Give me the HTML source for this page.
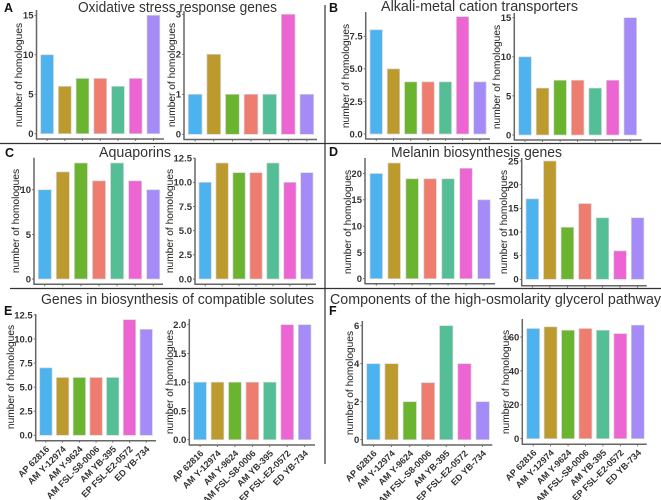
<!DOCTYPE html>
<html lang="en">
<head>
<meta charset="utf-8">
<title>Homologue counts by strain</title>
<style>
html,body{margin:0;padding:0;background:#fff;}
#figure{display:block;width:661px;height:500px;font-family:"Liberation Sans",sans-serif;filter:blur(0.3px);}
.title{font-size:14.8px;fill:#333;}
.letter{font-size:12.5px;font-weight:bold;fill:#111;}
.tick{font-size:9.5px;font-weight:bold;fill:#333;text-anchor:end;}
.ytitle{font-size:10.2px;fill:#222;text-anchor:middle;}
.xlab{font-size:9px;font-weight:bold;fill:#333;text-anchor:end;}
</style>
</head>
<body>
<svg id="figure" xmlns="http://www.w3.org/2000/svg" width="661" height="500" viewBox="0 0 661 500">
  <line x1="325" y1="5" x2="325" y2="464" stroke="#333" stroke-width="1.2"/>
  <line x1="0" y1="143.5" x2="661" y2="143.5" stroke="#333" stroke-width="1.2"/>
  <line x1="10" y1="288.5" x2="661" y2="288.5" stroke="#333" stroke-width="1.2"/>

  <text class="title" x="78" y="12" textLength="199" lengthAdjust="spacingAndGlyphs">Oxidative stress response genes</text>
  <text class="title" x="381" y="11" textLength="197" lengthAdjust="spacingAndGlyphs">Alkali-metal cation transporters</text>
  <text class="title" x="99" y="157" textLength="72" lengthAdjust="spacingAndGlyphs">Aquaporins</text>
  <text class="title" x="391" y="157" textLength="171" lengthAdjust="spacingAndGlyphs">Melanin biosynthesis genes</text>
  <text class="title" x="41" y="304" textLength="273" lengthAdjust="spacingAndGlyphs">Genes in biosynthesis of compatible solutes</text>
  <text class="title" x="330" y="304" textLength="331" lengthAdjust="spacingAndGlyphs">Components of the high-osmolarity glycerol pathway</text>

  <text class="letter" x="4" y="12">A</text>
  <text class="letter" x="329" y="12">B</text>
  <text class="letter" x="5" y="157">C</text>
  <text class="letter" x="329" y="156">D</text>
  <text class="letter" x="4" y="315">E</text>
  <text class="letter" x="329" y="315">F</text>
  <g id="charts"></g>
</svg>
<script>
const strains = ['AP 62816','AM Y-12974','AM Y-9624','AM FSL-S8-0006','AM YB-395','EP FSL-E2-0572','ED YB-734'];
const barColors = ['#4db3ee','#bd9a2e','#6bb42f','#ee7d70','#54be96','#ec65d3','#a48bf8'];

const valuesA1 = [10,6,7,7,6,7,15];
const valuesA2 = [1,2,1,1,1,3,1];
const valuesB1 = [8,5,4,4,4,9,4];
const valuesB2 = [10,6,7,7,6,7,15];
const valuesC1 = [10,12,13,11,13,11,10];
const valuesC2 = [10,12,11,11,12,10,11];
const valuesD1 = [20,22,19,19,19,21,15];
const valuesD2 = [17,25,11,16,13,6,13];
const valuesE1 = [7,6,6,6,6,12,11];
const valuesE2 = [1,1,1,1,1,2,2];
const valuesF1 = [4,4,2,3,6,4,2];
const valuesF2 = [65,66,64,65,64,62,67];

const ticksA1 = ['0','5','10','15'];
const ticksA2 = ['0','1','2','3'];
const ticksB1 = ['0.0','2.5','5.0','7.5'];
const ticksB2 = ['0','5','10','15'];
const ticksC1 = ['0','5','10'];
const ticksC2 = ['0.0','2.5','5.0','7.5','10.0','12.5'];
const ticksD1 = ['0','5','10','15','20'];
const ticksD2 = ['0','5','10','15','20','25'];
const ticksE1 = ['0.0','2.5','5.0','7.5','10.0','12.5'];
const ticksE2 = ['0.0','0.5','1.0','1.5','2.0'];
const ticksF1 = ['0','2','4','6'];
const ticksF2 = ['0','20','40','60'];

/* Frame of each plot: axis box, the pixel row of zero, and the domain value at the reference row */
const panels = [
  {id:'a1',values:valuesA1,ticks:ticksA1,left:36.5,right:164,base:139,top:10,zero:133.7,refY:15.3,refV:15,first:40.7,last:147,bw:12.8,tx:19,ty:75,labels:false},
  {id:'a2',values:valuesA2,ticks:ticksA2,left:184,right:317,base:139.5,top:11,zero:134.3,refY:14.3,refV:3,first:188.3,last:300,bw:13.7,tx:172,ty:75,labels:false},
  {id:'b1',values:valuesB1,ticks:ticksB1,left:365.7,right:490,base:139,top:12,zero:134,refY:16.7,refV:9,first:370,last:473.7,bw:12.4,tx:346,ty:76,labels:false},
  {id:'b2',values:valuesB2,ticks:ticksB2,left:514.3,right:641.7,base:140,top:13,zero:135,refY:17.7,refV:15,first:518.7,last:624,bw:12.6,tx:497,ty:77,labels:false},
  {id:'c1',values:valuesC1,ticks:ticksC1,left:34,right:163,base:284.3,top:157.7,zero:279,refY:163,refV:13,first:38.3,last:146.7,bw:13,tx:16,ty:221,labels:false},
  {id:'c2',values:valuesC2,ticks:ticksC2,left:195,right:316,base:284.3,top:158,zero:279,refY:163,refV:12,first:199,last:300.7,bw:12.3,tx:170,ty:221,labels:false},
  {id:'d1',values:valuesD1,ticks:ticksD1,left:365,right:495,base:283.7,top:158,zero:278.7,refY:163,refV:22,first:370,last:477.7,bw:12.5,tx:348,ty:222,labels:false},
  {id:'d2',values:valuesD2,ticks:ticksD2,left:521.7,right:646.7,base:285.7,top:158,zero:279.3,refY:161,refV:25,first:526,last:631.3,bw:12.6,tx:504,ty:222,labels:false},
  {id:'e1',values:valuesE1,ticks:ticksE1,left:35.7,right:156,base:440.7,top:314,zero:435.3,refY:319.7,refV:12,first:39.7,last:140,bw:12.4,tx:11,ty:377,labels:true},
  {id:'e2',values:valuesE2,ticks:ticksE2,left:189.3,right:315,base:445,top:319,zero:439.7,refY:324.7,refV:2,first:193.7,last:298.3,bw:12.7,tx:170,ty:382,labels:true},
  {id:'f1',values:valuesF1,ticks:ticksF1,left:362.3,right:492.3,base:445,top:321,zero:439.7,refY:325.7,refV:6,first:366.7,last:476,bw:13.3,tx:350,ty:383,labels:true},
  {id:'f2',values:valuesF2,ticks:ticksF2,left:522.3,right:646.7,base:444.3,top:319,zero:438.7,refY:337,refV:60,first:526.7,last:631.3,bw:12.9,tx:506,ty:382,labels:true}
];

const NS = 'http://www.w3.org/2000/svg';
const root = document.getElementById('charts');
function make(tag, attrs, parent, text) {
  const el = document.createElementNS(NS, tag);
  for (const k in attrs) el.setAttribute(k, attrs[k]);
  if (text !== undefined) el.textContent = text;
  parent.appendChild(el);
  return el;
}

panels.forEach(function (p) {
  const yScale = function (v) { return p.zero - (v / p.refV) * (p.zero - p.refY); };
  const xScale = function (i) { return p.first + i * (p.last - p.first) / (strains.length - 1); };
  const g = make('g', {}, root);
  
  

  p.values.forEach(function (v, i) {
    const y = yScale(v);
    const bar = make('rect', {x: xScale(i), y: y, width: p.bw, height: p.zero - y, fill: barColors[i], stroke: '#d6d6d6', 'stroke-width': 0.7}, g);
    
    
    const cx = xScale(i) + p.bw / 2;
    const xt = make('line', {x1: cx, x2: cx, y1: p.base, y2: p.base + 2, stroke: '#555', 'stroke-width': 0.8}, g);
    
    
    if (p.labels) {
      const lx = cx + 4, ly = p.base + 9;
      const lab = make('text', {class: 'xlab', x: lx, y: ly, transform: 'rotate(-45 ' + lx + ' ' + ly + ')'}, g, strains[i]);
      
      
    }
  });

  p.ticks.forEach(function (label, i) {
    const y = yScale(parseFloat(label));
    const yt = make('line', {x1: p.left - 2, x2: p.left, y1: y, y2: y, stroke: '#555', 'stroke-width': 0.8}, g);
    
    
    const tl = make('text', {class: 'tick', x: p.left - 3, y: y + 3.4}, g, label);
    
    
  });

  const yAxis = make('line', {x1: p.left, x2: p.left, y1: p.top, y2: p.base, stroke: '#666', 'stroke-width': 1.5}, g);
  
  
  const xAxis = make('line', {x1: p.left - 0.7, x2: p.right, y1: p.base, y2: p.base, stroke: '#666', 'stroke-width': 1.5}, g);
  
  
  const title = make('text', {class: 'ytitle', x: p.tx + 3, y: p.ty, transform: 'rotate(-90 ' + (p.tx + 3) + ' ' + p.ty + ')'}, g, 'number of homologues');
  
  
});
</script>
</body>
</html>
